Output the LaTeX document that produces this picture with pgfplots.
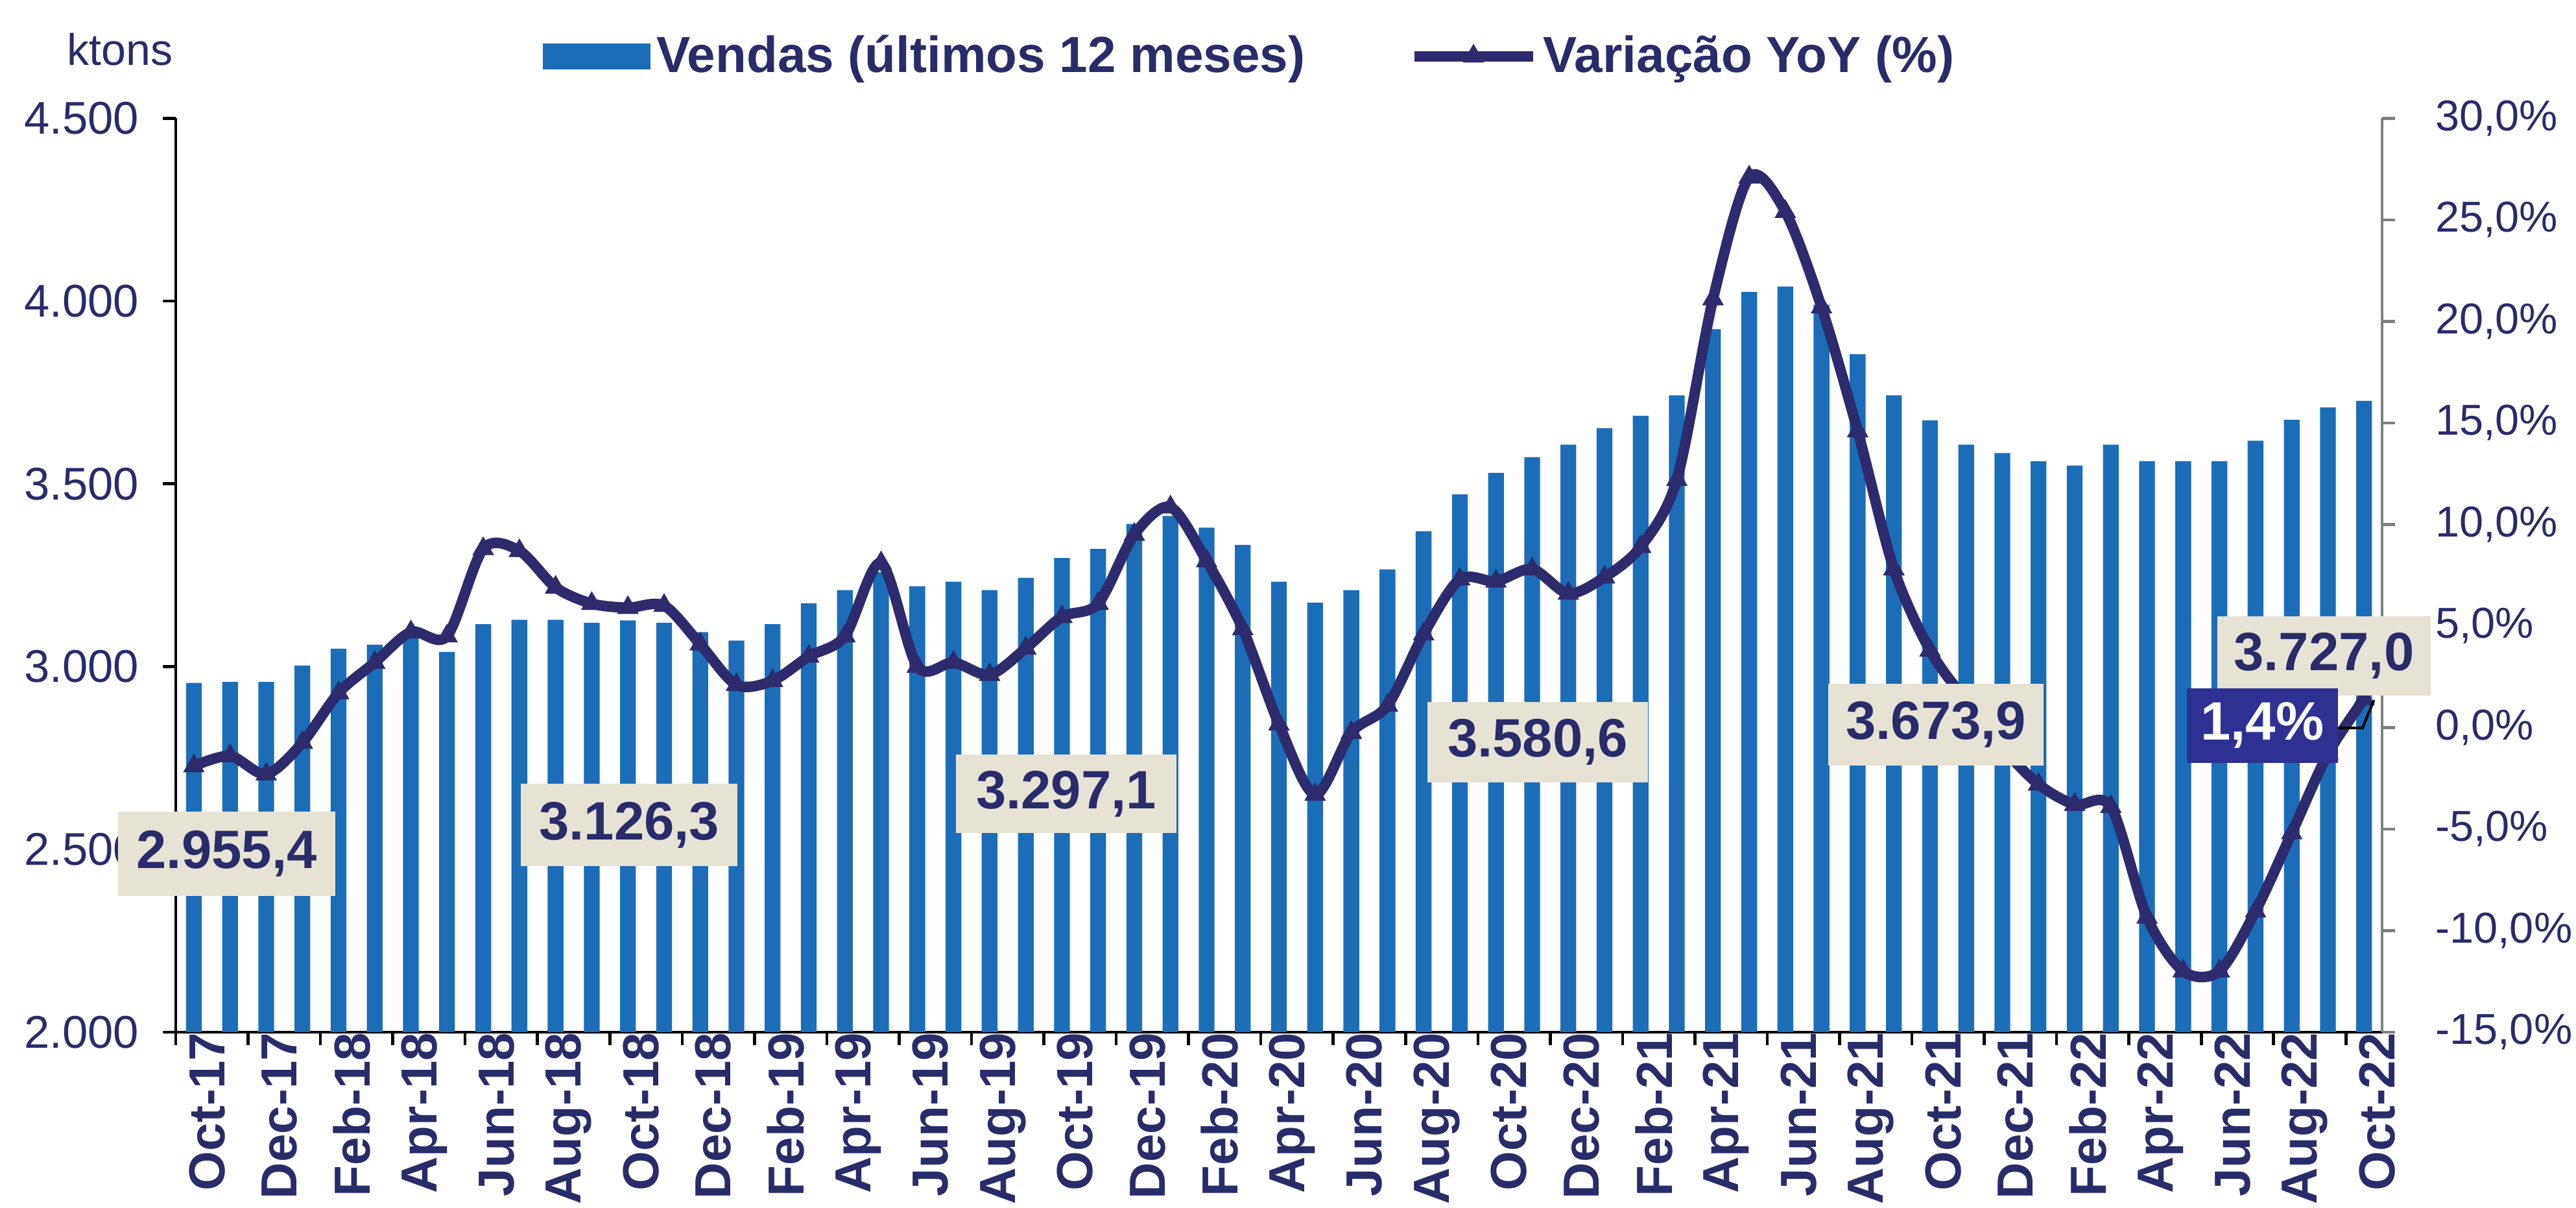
\documentclass[border=0pt]{standalone}
\usepackage{fontspec}
\setmainfont{Liberation Sans}
\usepackage{pgfplots}
\pgfplotsset{compat=1.18}
\usepackage{pgfplotstable}
\definecolor{barblue}{HTML}{1B6DB8}
\definecolor{navy}{HTML}{2D2B6E}
\definecolor{txt}{HTML}{282C69}
\definecolor{beige}{HTML}{E6E2D4}
\definecolor{boxblue}{HTML}{2E3192}

\pgfplotstableread{
idx vendas yoy
0 2955.4 -1.9
1 2958 -1.4
2 2958 -2.3
3 3003 -0.75
4 3049 1.7
5 3060 3.2
6 3078 4.7
7 3040 4.5
8 3116 8.8
9 3128 8.7
10 3128 6.9
11 3120 6.1
12 3126.3 5.9
13 3120 6.0
14 3094 4.1
15 3071 2.1
16 3116 2.3
17 3173 3.5
18 3209 4.5
19 3258 8.1
20 3220 3.0
21 3232 3.2
22 3209 2.6
23 3243 3.9
24 3297.1 5.45
25 3322 6.1
26 3390 9.5
27 3412 10.85
28 3380 8.2
29 3333 4.85
30 3232 0.16
31 3175 -3.3
32 3209 -0.25
33 3266 1.08
34 3370 4.6
35 3471 7.3
36 3530 7.2
37 3573 7.8
38 3607 6.6
39 3652 7.4
40 3686 8.9
41 3742 12.2
42 3923 21.1
43 4025 27.1
44 4040 25.4
45 3990 20.7
46 3855 14.6
47 3742 7.8
48 3673.9 3.8
49 3607 1.3
50 3584 -1.0
51 3562 -2.8
52 3550 -3.8
53 3607 -3.9
54 3562 -9.35
55 3562 -12.0
56 3562 -12.0
57 3618 -9.05
58 3675 -5.2
59 3709 -1.3
60 3727.0 1.4
}\data

\begin{document}
\begin{tikzpicture}
\useasboundingbox (0bp,0bp) rectangle (784bp,367.5bp);
\begin{axis}[
  at={(53.5bp,53.5bp)}, anchor=south west,
  scale only axis, width=671.5bp, height=278bp,
  xmin=-0.5, xmax=60.5, ymin=2000, ymax=4500,
  axis x line*=bottom, axis y line*=left,
  axis line style={black, line width=0.9bp},
  tick align=outside, major tick length=4bp,
  tick style={black, line width=0.9bp},
  ytick={2000,2500,3000,3500,4000,4500},
  yticklabels={2.000,2.500,3.000,3.500,4.000,4.500},
  yticklabel style={font=\fontsize{14}{14}\selectfont, text=txt, inner sep=0pt, xshift=-7bp},
  xtick={-0.5,1.5,...,59.5},
  xticklabels={},
  extra x ticks={0,2,...,60},
  extra x tick labels={Oct-17,Dec-17,Feb-18,Apr-18,Jun-18,Aug-18,Oct-18,Dec-18,Feb-19,Apr-19,Jun-19,Aug-19,Oct-19,Dec-19,Feb-20,Apr-20,Jun-20,Aug-20,Oct-20,Dec-20,Feb-21,Apr-21,Jun-21,Aug-21,Oct-21,Dec-21,Feb-22,Apr-22,Jun-22,Aug-22,Oct-22},
  extra x tick style={major tick length=0pt},
  xticklabel style={rotate=90, anchor=east, font=\bfseries\fontsize{15.5}{15.5}\selectfont, text=txt, inner sep=0pt, yshift=-4bp},
]
\addplot[ybar, bar width=4.8bp, fill=barblue, draw=none] table[x=idx,y=vendas]{\data};
\end{axis}
\begin{axis}[
  at={(53.5bp,53.5bp)}, anchor=south west,
  scale only axis, width=671.5bp, height=278bp,
  xmin=-0.5, xmax=60.5, ymin=-15, ymax=30,
  axis x line=none, axis y line*=right,
  axis line style={gray, line width=0.9bp},
  tick align=outside, major tick length=4bp,
  tick style={gray, line width=0.9bp},
  ytick={-15,-10,-5,0,5,10,15,20,25,30},
  yticklabels={-15{,}0\%,-10{,}0\%,-5{,}0\%,0{,}0\%,5{,}0\%,10{,}0\%,15{,}0\%,20{,}0\%,25{,}0\%,30{,}0\%},
  yticklabel style={font=\fontsize{13.2}{13.2}\selectfont, text=txt, inner sep=0pt, xshift=12bp},
  legend columns=2,
  legend style={at={(axis description cs:0.166,1.068)}, anchor=west, draw=none, fill=none,
    font=\bfseries\fontsize{15.5}{15.5}\selectfont, text=txt, inner sep=0pt,
    nodes={inner sep=1.7bp},
    /tikz/every even column/.append style={column sep=30bp}},
]
\addlegendimage{legend image code/.code={\fill[barblue] (0bp,-3.75bp) rectangle (32.5bp,3.75bp);}}
\addlegendentry{Vendas (últimos 12 meses)}
\addplot[navy, line width=3.2bp, smooth, tension=0.5, mark=triangle*, mark size=3.3bp,
  mark options={solid, fill=navy, line width=0.5bp},
  legend image code/.code={\draw[mark repeat=2,mark phase=2] plot coordinates {(0bp,0bp) (18bp,0bp) (36bp,0bp)};}]
  table[x=idx,y=yoy]{\data};
\addlegendentry{Variação YoY (\%)}
\end{axis}
\node[font=\fontsize{13.5}{13.5}\selectfont, text=txt] at (36.5bp,352.5bp) {ktons};
\tikzset{lab/.style={fill=beige, inner sep=0pt, font=\bfseries\fontsize{16.5}{16.5}\selectfont, text=txt}}
\node[lab, minimum width=66bp, minimum height=25.5bp] at (69bp,107.75bp) {2.955,4};
\node[lab, minimum width=66bp, minimum height=25bp] at (191.5bp,116.5bp) {3.126,3};
\node[lab, minimum width=67bp, minimum height=23.75bp] at (324.5bp,126bp) {3.297,1};
\node[lab, minimum width=67bp, minimum height=24.5bp] at (468bp,141.75bp) {3.580,6};
\node[lab, minimum width=65.5bp, minimum height=25bp] at (589.25bp,147bp) {3.673,9};
\node[lab, minimum width=65bp, minimum height=24bp] at (707.3bp,168bp) {3.727,0};
\draw[black, line width=0.8bp] (711.5bp,146bp) -- (719bp,146bp) -- (722.5bp,154.5bp);
\node[fill=boxblue, inner sep=0pt, minimum width=46bp, minimum height=22.75bp, font=\bfseries\fontsize{16.5}{16.5}\selectfont, text=white] at (688.5bp,146.75bp) {1,4\%};
\end{tikzpicture}
\end{document}
